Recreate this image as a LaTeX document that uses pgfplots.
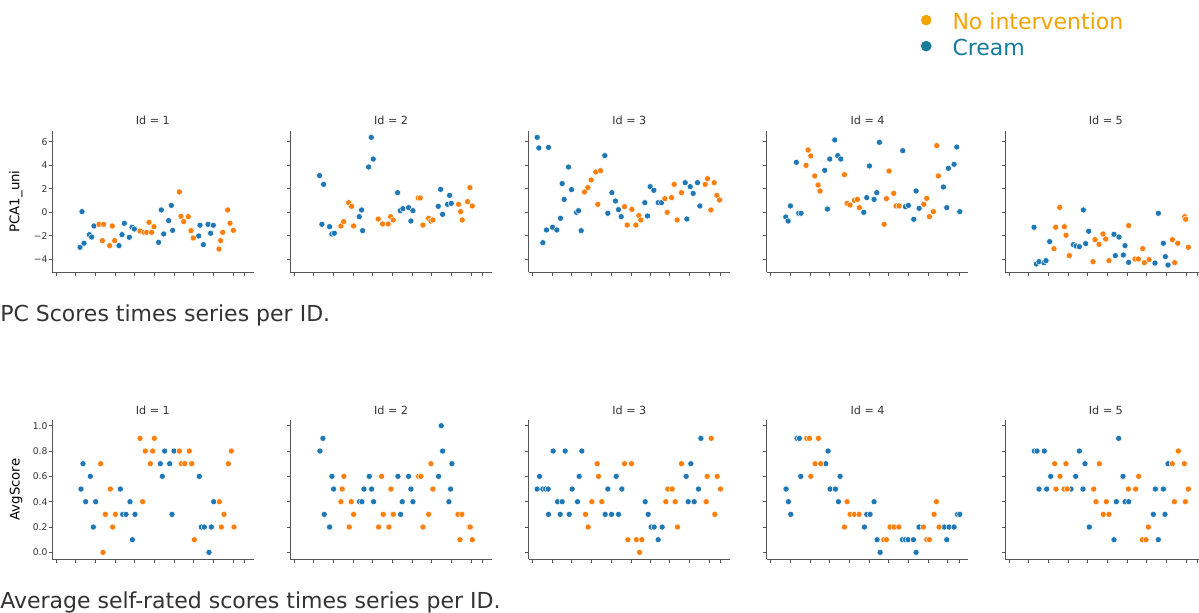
\documentclass[border=0pt]{standalone}
\usepackage{pgfplots}
\pgfplotsset{compat=1.18}
\usepackage{pgfplotstable}
\usepackage{fontspec}
\setmainfont{DejaVu Sans}
\definecolor{cblue}{HTML}{1F77B4}
\definecolor{corange}{HTML}{FF7F0E}
\definecolor{legorange}{HTML}{F5A300}
\definecolor{legblue}{HTML}{167A9C}
\definecolor{spine}{HTML}{555555}
\definecolor{txt}{HTML}{333333}

% ---------- top row (PCA1_uni) ----------
\pgfplotstableread{
zx v
240 -2.97
252 -2.63
246 0.06
268 -1.90
275 -2.10
282 -1.16
357 -2.83
366 -1.90
373 -0.93
388 -2.12
396 -1.27
403 -1.42
476 -2.55
484 0.20
491 -1.84
506 -0.71
514 0.59
518 -1.53
596 -2.01
600 -1.10
610 -2.75
624 -1.02
632 -1.78
640 -1.10
}\tTaB
\pgfplotstableread{
zx v
297 -1.02
311 -1.02
307 -2.41
329 -2.83
337 -1.16
344 -2.41
420 -1.59
432 -1.70
440 -1.70
447 -0.85
455 -1.70
462 -1.22
538 1.73
543 -0.34
551 -0.79
565 -0.37
573 -1.56
580 -2.18
657 -3.12
662 -2.41
668 -1.70
683 0.20
690 -0.93
700 -1.53
}\tTaO
\pgfplotstableread{
zx v
146 3.12
158 2.38
153 -1.02
176 -1.22
183 -1.84
190 -1.78
265 -0.37
272 0.20
275 -1.56
293 3.85
301 6.37
307 4.53
380 1.67
388 0.14
396 0.31
413 0.40
420 -0.74
426 0.14
502 0.51
509 1.95
515 -0.17
530 0.68
536 1.44
541 0.76
}\tTbB
\pgfplotstableread{
zx v
210 -1.16
218 -0.79
233 0.82
242 0.51
248 -1.16
322 -0.57
335 -0.99
352 -0.99
359 -0.37
367 -0.65
442 1.22
448 1.22
456 -1.08
473 -0.51
480 -0.74
486 -0.65
563 0.68
569 0.06
574 -0.65
590 0.91
597 2.10
604 0.54
}\tTbO
\pgfplotstableread{
zx v
82 6.37
87 5.47
116 5.52
99 -2.58
110 -1.50
128 -1.27
141 -1.50
152 -0.51
157 2.44
163 1.10
176 3.85
185 1.93
200 0.00
206 0.14
214 -1.56
285 4.82
294 -0.08
306 1.67
317 0.96
326 0.23
334 -0.37
405 0.82
413 -0.31
421 2.18
432 1.87
445 0.82
455 0.82
526 2.52
531 -0.57
541 2.18
550 1.61
563 2.52
570 0.54
}\tTcB
\pgfplotstableread{
zx v
224 1.73
234 2.10
244 2.75
258 3.43
272 3.54
264 0.68
344 0.48
352 -1.08
366 0.25
378 -1.08
387 -0.28
393 -0.65
465 1.16
472 0.00
485 1.25
493 2.38
502 -0.65
515 1.67
586 2.38
593 2.86
613 2.52
603 0.20
621 1.44
629 1.05
}\tTcO
\pgfplotstableread{
zx v
107 -0.40
114 -0.74
121 0.54
139 4.25
146 -0.08
153 -0.08
224 3.57
232 0.28
239 4.53
254 6.15
263 4.82
272 4.53
341 0.00
350 1.25
358 3.94
372 1.10
380 1.67
388 5.95
458 5.24
466 0.48
475 0.59
491 -0.59
498 1.81
507 0.34
580 2.15
590 0.40
595 3.74
612 4.08
620 5.55
629 0.06
}\tTdB
\pgfplotstableread{
zx v
168 3.99
174 5.30
182 4.79
194 3.09
204 2.32
210 1.81
283 3.20
291 0.76
300 0.62
313 1.02
322 1.10
328 0.40
402 -1.02
409 1.16
417 3.51
431 1.61
438 0.54
447 0.54
521 0.68
530 1.19
538 -0.37
550 0.06
560 5.67
565 3.09
}\tTdO
\pgfplotstableread{
zx v
147 -1.27
154 -4.39
162 -4.19
177 -4.28
183 -4.11
194 -2.49
265 -2.75
273 -2.86
283 -2.92
295 0.20
302 -2.66
311 -1.61
387 -1.87
391 -3.68
402 -2.10
415 -3.63
420 -2.83
431 -4.25
510 -4.31
520 -0.08
535 -2.63
541 -3.77
549 -4.48
}\tTeB
\pgfplotstableread{
zx v
207 -3.09
212 -1.27
224 0.42
238 -1.22
243 -1.95
253 -3.68
324 -4.19
330 -2.32
342 -2.72
354 -1.84
362 -2.27
372 -4.11
431 -1.13
450 -3.97
460 -3.97
473 -3.09
478 -4.28
492 -4.02
562 -2.32
569 -4.28
578 -2.63
599 -0.37
602 -0.59
610 -2.97
}\tTeO

% ---------- bottom row (AvgScore) ----------
\pgfplotstableread{
zx v
243 0.5
249 0.7
257 0.4
271 0.6
280 0.2
287 0.4
361 0.5
368 0.3
378 0.3
390 0.4
397 0.1
405 0.3
481 0.7
487 0.6
494 0.8
509 0.7
516 0.3
522 0.8
598 0.6
604 0.2
613 0.2
627 0.0
634 0.2
641 0.4
}\tBaB
\pgfplotstableread{
zx v
302 0.7
309 0.0
316 0.3
331 0.5
338 0.2
346 0.3
420 0.9
428 0.4
436 0.8
451 0.7
458 0.8
463 0.9
538 0.8
544 0.7
554 0.7
568 0.8
575 0.7
583 0.1
658 0.4
664 0.2
672 0.3
685 0.7
694 0.8
702 0.2
}\tBaO
\pgfplotstableread{
zx v
149 0.8
158 0.9
162 0.3
178 0.2
185 0.6
190 0.5
268 0.4
275 0.4
281 0.5
297 0.6
304 0.5
310 0.4
383 0.6
391 0.3
396 0.4
415 0.6
422 0.5
428 0.4
505 0.6
513 1.0
517 0.8
536 0.4
541 0.5
545 0.7
}\tBbB
\pgfplotstableread{
zx v
212 0.4
216 0.5
221 0.6
237 0.2
243 0.4
250 0.3
325 0.2
334 0.6
339 0.3
356 0.2
362 0.5
369 0.3
445 0.6
452 0.6
458 0.2
475 0.3
482 0.7
488 0.5
563 0.3
569 0.1
575 0.3
597 0.2
600 0.2
606 0.1
}\tBbO
\pgfplotstableread{
zx v
82 0.5
89 0.6
99 0.5
107 0.5
115 0.5
116 0.3
130 0.8
143 0.4
151 0.3
157 0.4
166 0.8
178 0.3
187 0.5
203 0.4
208 0.6
216 0.8
286 0.3
294 0.5
305 0.3
319 0.6
326 0.3
336 0.5
406 0.4
415 0.3
424 0.2
433 0.2
445 0.1
457 0.2
529 0.6
535 0.4
543 0.7
553 0.4
566 0.5
573 0.9
}\tBcB
\pgfplotstableread{
zx v
227 0.3
235 0.2
246 0.4
262 0.7
266 0.6
276 0.4
344 0.7
354 0.1
365 0.7
380 0.1
389 0.0
396 0.1
468 0.4
474 0.5
487 0.5
496 0.4
503 0.2
515 0.7
589 0.4
592 0.6
604 0.9
615 0.3
622 0.6
632 0.5
}\tBcO
\pgfplotstableread{
zx v
108 0.5
115 0.4
122 0.3
141 0.9
148 0.9
152 0.6
227 0.7
234 0.8
240 0.5
256 0.5
265 0.4
270 0.6
343 0.2
350 0.3
360 0.3
372 0.4
381 0.1
390 0.0
457 0.1
466 0.1
474 0.1
490 0.1
498 0.0
507 0.2
583 0.2
590 0.1
597 0.2
612 0.2
622 0.3
629 0.3
}\tBdB
\pgfplotstableread{
zx v
170 0.9
178 0.9
182 0.6
195 0.7
205 0.9
212 0.7
283 0.2
291 0.4
300 0.3
313 0.3
327 0.3
401 0.1
409 0.1
420 0.2
432 0.2
446 0.2
520 0.2
530 0.1
538 0.1
552 0.3
559 0.4
567 0.2
}\tBdO
\pgfplotstableread{
zx v
148 0.8
156 0.8
162 0.5
178 0.8
185 0.5
197 0.6
258 0.5
272 0.6
283 0.8
294 0.5
300 0.7
313 0.2
387 0.1
394 0.4
401 0.9
414 0.6
420 0.4
431 0.4
505 0.3
511 0.5
520 0.1
535 0.5
540 0.3
549 0.7
}\tBeB
\pgfplotstableread{
zx v
209 0.7
213 0.5
225 0.6
237 0.5
243 0.7
247 0.5
326 0.5
333 0.4
343 0.7
355 0.3
364 0.4
372 0.3
430 0.5
452 0.5
461 0.6
472 0.1
483 0.1
490 0.2
562 0.7
568 0.4
580 0.8
598 0.7
601 0.4
610 0.5
}\tBeO

\pgfplotsset{
  panel/.style={
    scale only axis, width=151.25pt,
    xmin=-12, xmax=593,
    axis lines*=left,
    axis line style={spine, line width=0.7pt},
    xtick={0,59,118,177,236,296,354,412,472,531,565},
    xticklabels={},
    tick align=outside, major tick length=2.6pt,
    tick style={spine, line width=0.7pt},
    tick label style={font=\fontsize{6.9}{8}\selectfont, text=txt, inner sep=0.6pt},
    title style={font=\fontsize{8.4}{10}\selectfont, text=txt, at={(0.5,1)}, anchor=base, yshift=-1.6pt, inner sep=0pt},
    ylabel style={font=\fontsize{7.4}{9}\selectfont, text=txt},
    every axis y label/.style={at={(axis description cs:-0.1785,0.5)}, rotate=90, anchor=center},
  },
  toprow/.style={panel, height=106.25pt, ymin=-5.1, ymax=6.94, ytick={-4,-2,0,2,4,6}, yticklabels={}},
  botrow/.style={panel, height=104.5pt, ymin=-0.055, ymax=1.045, ytick={0,0.2,0.4,0.6,0.8,1.0}, yticklabels={}},
  bdot/.style={only marks, mark=*, mark size=2.3pt, mark options={fill=cblue, draw=white, line width=0.35pt}, forget plot},
  odot/.style={only marks, mark=*, mark size=2.3pt, mark options={fill=corange, draw=white, line width=0.35pt}, forget plot},
}

\begin{document}
\begin{tikzpicture}
\useasboundingbox (0,0) rectangle (899.25pt,-459.75pt);
\clip (0,0) rectangle (899.25pt,-459.75pt);

% ---- top row ----
\begin{axis}[toprow, at={(39pt,-98pt)}, anchor=north west, title={Id = 1},
  yticklabels={−4,−2,0,2,4,6}, ylabel={PCA1\_uni}]
\addplot[bdot] table[x expr=\thisrow{zx}-168, y=v] {\tTaB};
\addplot[odot] table[x expr=\thisrow{zx}-168, y=v] {\tTaO};
\end{axis}
\begin{axis}[toprow, at={(217.69pt,-98pt)}, anchor=north west, title={Id = 2}]
\addplot[bdot] table[x expr=\thisrow{zx}-70, y=v] {\tTbB};
\addplot[odot] table[x expr=\thisrow{zx}-70, y=v] {\tTbO};
\end{axis}
\begin{axis}[toprow, at={(396.38pt,-98pt)}, anchor=north west, title={Id = 3}]
\addplot[bdot] table[x expr=\thisrow{zx}-68, y=v] {\tTcB};
\addplot[odot] table[x expr=\thisrow{zx}-68, y=v] {\tTcO};
\end{axis}
\begin{axis}[toprow, at={(575.06pt,-98pt)}, anchor=north west, title={Id = 4},
  legend style={at={(axis description cs:0.7647,1.825)}, anchor=north west,
    draw=none, fill=none, inner sep=0pt, outer sep=0pt, row sep=0pt,
    font=\fontsize{16.5}{19.5}\selectfont,
    nodes={inner sep=0pt, text height=12pt, text depth=7.5pt},
    /tikz/every odd column/.append style={column sep=15.75pt}},
  legend cell align=left]
\addlegendimage{legend image code/.code={\fill[legorange] (0pt,5pt) circle (3.75pt);}}
\addlegendentry{\color{legorange}No intervention}
\addlegendimage{legend image code/.code={\fill[legblue] (0pt,5pt) circle (3.75pt);}}
\addlegendentry{\color{legblue}Cream}
\addplot[bdot] table[x expr=\thisrow{zx}-62, y=v] {\tTdB};
\addplot[odot] table[x expr=\thisrow{zx}-62, y=v] {\tTdO};
\end{axis}
\begin{axis}[toprow, at={(753.75pt,-98pt)}, anchor=north west, title={Id = 5}]
\addplot[bdot] table[x expr=\thisrow{zx}-72, y=v] {\tTeB};
\addplot[odot] table[x expr=\thisrow{zx}-72, y=v] {\tTeO};
\end{axis}

% ---- bottom row ----
\begin{axis}[botrow, at={(39pt,-315pt)}, anchor=north west, title={Id = 1},
  yticklabels={0.0,0.2,0.4,0.6,0.8,1.0}, ylabel={AvgScore}]
\addplot[bdot] table[x expr=\thisrow{zx}-168, y=v] {\tBaB};
\addplot[odot] table[x expr=\thisrow{zx}-168, y=v] {\tBaO};
\end{axis}
\begin{axis}[botrow, at={(217.69pt,-315pt)}, anchor=north west, title={Id = 2}]
\addplot[bdot] table[x expr=\thisrow{zx}-72, y=v] {\tBbB};
\addplot[odot] table[x expr=\thisrow{zx}-72, y=v] {\tBbO};
\end{axis}
\begin{axis}[botrow, at={(396.38pt,-315pt)}, anchor=north west, title={Id = 3}]
\addplot[bdot] table[x expr=\thisrow{zx}-68, y=v] {\tBcB};
\addplot[odot] table[x expr=\thisrow{zx}-68, y=v] {\tBcO};
\end{axis}
\begin{axis}[botrow, at={(575.06pt,-315pt)}, anchor=north west, title={Id = 4}]
\addplot[bdot] table[x expr=\thisrow{zx}-62, y=v] {\tBdB};
\addplot[odot] table[x expr=\thisrow{zx}-62, y=v] {\tBdO};
\end{axis}
\begin{axis}[botrow, at={(753.75pt,-315pt)}, anchor=north west, title={Id = 5}]
\addplot[bdot] table[x expr=\thisrow{zx}-72, y=v] {\tBeB};
\addplot[odot] table[x expr=\thisrow{zx}-72, y=v] {\tBeO};
\end{axis}

\node[anchor=base west, inner sep=0pt, text=txt, font=\fontsize{16.5}{20}\selectfont] at (0pt,-240.75pt) {PC Scores times series per ID.};
\node[anchor=base west, inner sep=0pt, text=txt, font=\fontsize{16.5}{20}\selectfont] at (0pt,-456pt) {Average self-rated scores times series per ID.};
\end{tikzpicture}
\end{document}
